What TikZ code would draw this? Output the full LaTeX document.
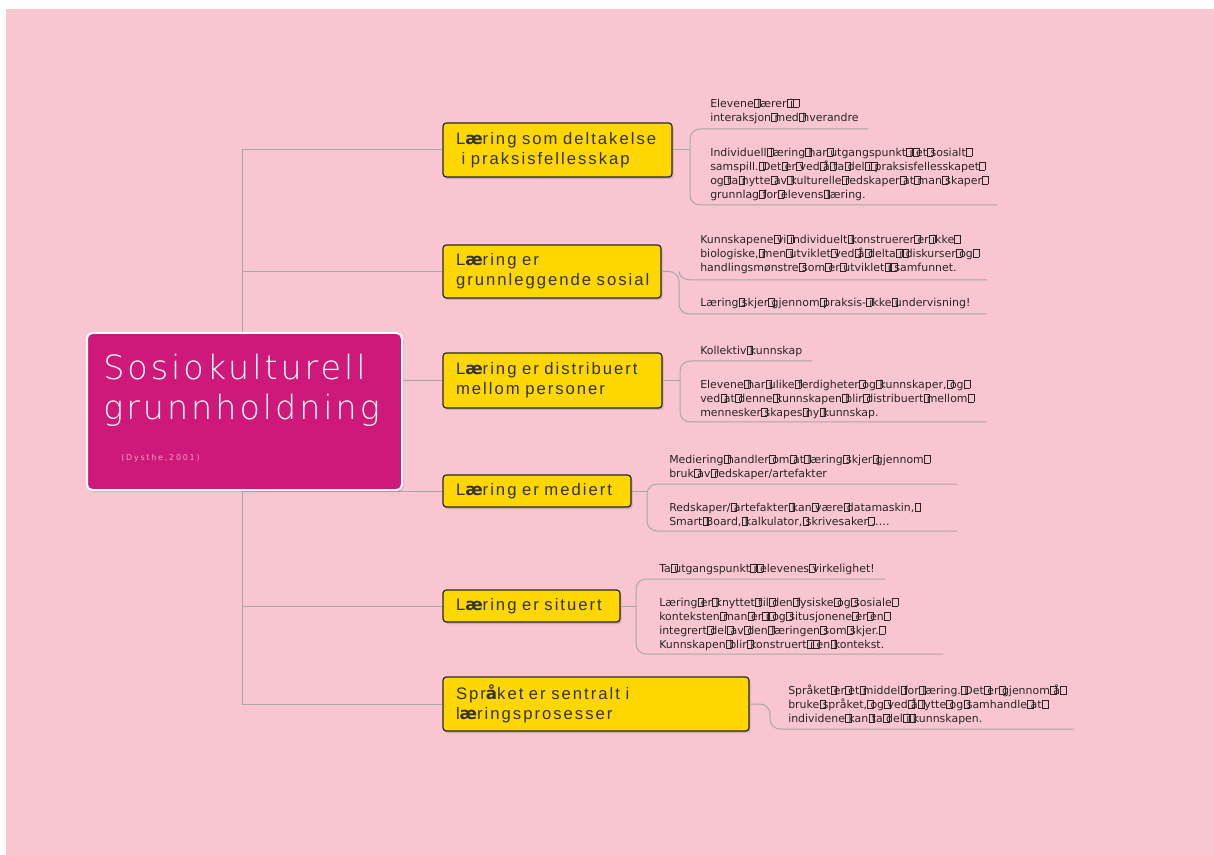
\documentclass[tikz,border=0pt]{standalone}
\usepackage{fontspec}
\usetikzlibrary{shadows,calc}
\setmainfont{DejaVu Sans}
\newfontfamily\leaffont{DejaVu Sans}
\newfontfamily\boxfont{Liberation Sans}[LetterSpace=12]
\newfontfamily\titlefont{DejaVu Sans ExtraLight}[LetterSpace=9]
\newfontfamily\citefont{DejaVu Sans}[LetterSpace=22]
\newfontfamily\fallbackfont{DejaVu Sans Bold}
% empty glyph frame that stands in for a space
\newcommand\sq{\hspace{0.02em}\rlap{\setlength\fboxsep{0pt}\setlength\fboxrule{0.22pt}\fbox{\rule{0pt}{0.72em}\hspace{0.5em}}}\hspace{0.298em}}
\newcommand\bae{{\fallbackfont\fontsize{12.5}{15}\selectfont æ}}
\newcommand\baa{{\fallbackfont\fontsize{12.5}{15}\selectfont å}}
\definecolor{pagebg}{RGB}{249,197,208}
\definecolor{rootfill}{RGB}{206,25,122}
\definecolor{topicfill}{RGB}{255,215,0}
\definecolor{linegray}{RGB}{168,168,168}
\definecolor{citecol}{RGB}{238,160,200}
\tikzset{
  topic/.style={draw=black!85, line width=0.9pt, fill=topicfill, rounded corners=2.5pt,
    drop shadow={shadow xshift=1.2pt, shadow yshift=-1.5pt, opacity=0.35},
    align=left, inner xsep=9.75pt, inner ysep=0pt, text=black!80,
    font=\boxfont\fontsize{12.5}{15}\selectfont},
  rootbox/.style={draw=white, line width=1.5pt, fill=rootfill, rounded corners=4pt,
    drop shadow={shadow xshift=1.2pt, shadow yshift=-1.5pt, opacity=0.35},
    minimum width=236.25pt, minimum height=117.75pt, inner sep=0pt},
  leaf/.style={anchor=north west, inner sep=0pt, align=left, text=black!85,
    font=\leaffont\fontsize{8.2}{10.5}\selectfont},
  conn/.style={draw=linegray, line width=0.75pt},
  bracket/.style={conn, rounded corners=7.5pt},
}
\begin{document}
\begin{tikzpicture}[x=0.75pt, y=-0.75pt]
\useasboundingbox (0,0) rectangle (1214,855);
\fill[white] (0,0) rectangle (1214,855);
\fill[pagebg] (6,9) rectangle (1214,855);

% main topics (each line kept whole)
\node[topic, minimum width=171.75pt, minimum height=40.5pt, text width=152.25pt] (b1) at (557.5,150)
  {\mbox{L\bae ring som deltakelse}\\\mbox{\ i praksisfellesskap}};
\node[topic, minimum width=163.5pt, minimum height=39.75pt, text width=144pt] (b2) at (552,271.5)
  {\mbox{L\bae ring er}\\\mbox{grunnleggende sosial}};
\node[topic, minimum width=164.25pt, minimum height=41.25pt, text width=144.75pt] (b3) at (552.5,380.5)
  {\mbox{L\bae ring er distribuert}\\\mbox{mellom personer}};
\node[topic, minimum width=141pt, minimum height=24pt, text width=121.5pt] (b4) at (537,491)
  {\mbox{L\bae ring er mediert}};
\node[topic, minimum width=132.75pt, minimum height=24pt, text width=113.25pt] (b5) at (531.5,606)
  {\mbox{L\bae ring er situert}};
\node[topic, minimum width=229.5pt, minimum height=40.5pt, text width=210pt] (b6) at (596,704)
  {\mbox{Spr\baa ket er sentralt i}\\\mbox{l\bae ringsprosesser}};

% trunk from the central topic
\coordinate (hub) at (242,425);
\foreach \b in {b1,b2,b3,b4,b5,b6}
  \draw[conn] (hub) |- (\b.west);

% central topic
\node[rootbox] (root) at (244.5,411.5) {};
\node[anchor=west, inner sep=0pt, text=white, font=\titlefont\fontsize{25}{30}\selectfont] (t1) at (103,367) {Sosiokulturell};
\node[anchor=west, inner sep=0pt, text=white, font=\titlefont\fontsize{25}{30}\selectfont] (t2) at (103,410) {grunnholdning};
\node[anchor=west, inner sep=0pt, text=citecol, font=\citefont\fontsize{6}{7}\selectfont] (cite) at (121,458) {(Dysthe,2001)};

% subtopics: texts
\node[leaf] (l1a) at (710,98.5) {Elevene\sq lærer\sq i\sq\\interaksjon\sq med\sq hverandre};
\node[leaf] (l1b) at (710,147.5) {Individuell\sq læring\sq har\sq utgangspunkt\sq i\sq et\sq sosialt\sq\\samspill.\sq Det\sq er\sq ved\sq å\sq ta\sq del\sq i\sq praksisfellesskapet\sq\\og\sq ta\sq nytte\sq av\sq kulturelle\sq redskaper\sq at\sq man\sq skaper\sq\\grunnlag\sq for\sq elevens\sq læring.};
\node[leaf] (l2a) at (700,234.5) {Kunnskapene\sq vi\sq individuelt\sq konstruerer\sq er\sq ikke\sq\\biologiske,\sq men\sq utviklet\sq ved\sq å\sq delta\sq i\sq diskurser\sq og\sq\\handlingsmønstre\sq som\sq er\sq utviklet\sq i\sq samfunnet.};
\node[leaf] (l2b) at (700,297.5) {Læring\sq skjer\sq gjennom\sq praksis-\sq ikke\sq undervisning!};
\node[leaf] (l3a) at (700,345.5) {Kollektiv\sq kunnskap};
\node[leaf] (l3b) at (700,379.5) {Elevene\sq har\sq ulike\sq ferdigheter\sq og\sq kunnskaper,\sq og\sq\\ved\sq at\sq denne\sq kunnskapen\sq blir\sq distribuert\sq mellom\sq\\mennesker\sq skapes\sq ny\sq kunnskap.};
\node[leaf] (l4a) at (669,454.5) {Mediering\sq handler\sq om\sq at\sq læring\sq skjer\sq gjennom\sq\\bruk\sq av\sq redskaper/artefakter};
\node[leaf] (l4b) at (669,502.5) {Redskaper/\sq artefakter\sq kan\sq være\sq datamaskin,\sq\\Smart\sq Board,\sq kalkulator,\sq skrivesaker\sq.….};
\node[leaf] (l5a) at (659,563.5) {Ta\sq utgangspunkt\sq i\sq elevenes\sq virkelighet!};
\node[leaf] (l5b) at (659,597.5) {Læring\sq er\sq knyttet\sq til\sq den\sq fysiske\sq og\sq sosiale\sq\\konteksten\sq man\sq er\sq i\sq og\sq situsjonene\sq er\sq en\sq\\integrert\sq del\sq av\sq den\sq læringen\sq som\sq skjer.\sq\\Kunnskapen\sq blir\sq konstruert\sq i\sq en\sq kontekst.};
\node[leaf] (l6) at (788,684.5) {Språket\sq er\sq et\sq middel\sq for\sq læring.\sq Det\sq er\sq gjennom\sq å\sq\\bruke\sq språket,\sq og\sq ved\sq å\sq lytte\sq og\sq samhandle\sq at\sq\\individene\sq kan\sq ta\sq del\sq i\sq kunnskapen.};

% subtopics: underlines and brackets
\coordinate (u1a) at (868,129);  \coordinate (u1b) at (997,205);  \coordinate (k1) at (690,0);
\coordinate (u2a) at (987,280);  \coordinate (u2b) at (987,314);  \coordinate (k2) at (679,0);
\coordinate (u3a) at (812,361);  \coordinate (u3b) at (987,422);  \coordinate (k3) at (680,0);
\coordinate (u4a) at (957,484);  \coordinate (u4b) at (957,531);  \coordinate (k4) at (647,0);
\coordinate (u5a) at (885,579);  \coordinate (u5b) at (943,654);  \coordinate (k5) at (636,0);
\coordinate (u6) at (1074,729);  \coordinate (k6) at (770,0);

\foreach \i in {1,3,4,5} {
  \draw[bracket] (u\i a) -- (u\i a -| k\i) -- (u\i b -| k\i) -- (u\i b);
  \draw[conn] (b\i.east) -- (b\i.east -| k\i);
}
% the second topic joins its bracket at the top
\draw[bracket] (b2.east) -- (b2.east -| k2) -- (u2b -| k2) -- (u2b);
\draw[conn] (b2.east -| k2) to[out=-90, in=180] ($(u2a -| k2)+(13,0)$) -- (u2a);
\draw[conn, rounded corners=7.5pt] (b6.east) -- (b6.east -| k6) -- (u6 -| k6) -- (u6);
\end{tikzpicture}
\end{document}
